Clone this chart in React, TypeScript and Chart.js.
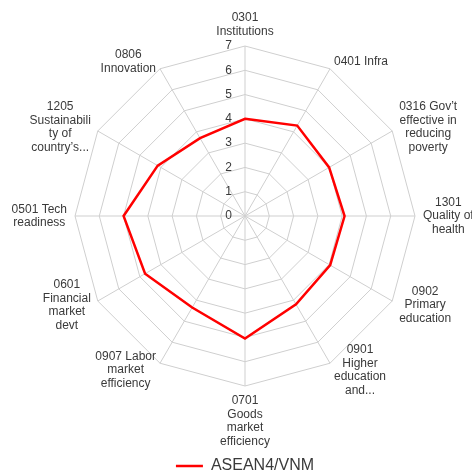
import React, { useEffect, useRef } from "react";
import { Chart, registerables } from "chart.js";

Chart.register(...registerables);

const CATEGORIES: string[][] = [
  ["0301", "Institutions"],
  ["0401 Infra"],
  ["0316 Gov’t", "effective in", "reducing", "poverty"],
  ["1301", "Quality of", "health"],
  ["0902", "Primary", "education"],
  ["0901", "Higher", "education", "and..."],
  ["0701", "Goods", "market", "efficiency"],
  ["0907 Labor", "market", "efficiency"],
  ["0601", "Financial", "market", "devt"],
  ["0501 Tech", "readiness"],
  ["1205", "Sustainabili", "ty of", "country’s..."],
  ["0806", "Innovation"],
];

const SERIES_NAME = "ASEAN4/VNM";
const SERIES_VALUES: number[] = [4.0, 4.3, 4.0, 4.1, 4.05, 4.2, 5.05, 4.35, 4.75, 5.0, 4.15, 3.7];

const TICK_VALUES: number[] = [0, 1, 2, 3, 4, 5, 6, 7];
const SCALE_MIN = 0;
const SCALE_MAX = 7;

const TEXT_COLOR = "#3a3a3a";
const GRID_COLOR = "#cfcfcf";
const LINE_COLOR = "#ff0000";
const FONT = '12px "Liberation Sans", Arial, sans-serif';
const LINE_H = 13.5;
const LABEL_GAP = 8;

const textPlugin = {
  id: "radarText",
  afterDraw(chart: any) {
    const scale = chart.scales.r;
    const ctx = chart.ctx as CanvasRenderingContext2D;
    ctx.save();
    ctx.fillStyle = TEXT_COLOR;
    ctx.font = FONT;
    ctx.textAlign = "right";
    ctx.textBaseline = "middle";
    TICK_VALUES.forEach((v) => {
      const d = scale.getDistanceFromCenterForValue(v);
      ctx.fillText(String(v), scale.xCenter - 13, scale.yCenter - d);
    });
    ctx.textAlign = "center";
    CATEGORIES.forEach((lines, i) => {
      const p = scale.getPointPosition(i, scale.drawingArea + LABEL_GAP);
      const angle = scale.getIndexAngle(i);
      const s = Math.sin(angle);
      const c = Math.cos(angle);
      const boxW = Math.max(...lines.map((l) => ctx.measureText(l).width));
      const boxH = lines.length * LINE_H;
      let cx = p.x;
      if (s > 0.01) cx = p.x + boxW / 2;
      else if (s < -0.01) cx = p.x - boxW / 2;
      let top = p.y - boxH / 2;
      if (c > 0.99) top = p.y - boxH;
      else if (c < -0.99) top = p.y;
      lines.forEach((l, k) => ctx.fillText(l, cx, top + LINE_H * (k + 0.5)));
    });
    ctx.restore();
  },
};

export default function App() {
  const ref = useRef<HTMLCanvasElement | null>(null);
  useEffect(() => {
    if (!ref.current) return;
    Chart.defaults.font.family = '"Liberation Sans", Arial, sans-serif';
    const chart = new Chart(ref.current, {
      type: "radar",
      data: {
        labels: CATEGORIES,
        datasets: [
          {
            label: SERIES_NAME,
            data: SERIES_VALUES,
            borderColor: LINE_COLOR,
            backgroundColor: "rgba(0,0,0,0)",
            borderWidth: 2.5,
            pointRadius: 0,
            pointHoverRadius: 0,
            fill: false,
          },
        ],
      },
      options: {
        responsive: false,
        animation: false,
        devicePixelRatio: 1,
        layout: { padding: { left: 75, right: 57, top: 4, bottom: 0 } },
        plugins: {
          tooltip: { enabled: false },
          legend: {
            position: "bottom",
            labels: {
              usePointStyle: true,
              pointStyle: "line",
              pointStyleWidth: 27,
              color: TEXT_COLOR,
              font: { size: 16 },
              padding: 10,
            },
          },
        },
        scales: {
          r: {
            min: SCALE_MIN,
            max: SCALE_MAX,
            ticks: { stepSize: 1, display: false },
            grid: { color: GRID_COLOR, lineWidth: 1 },
            angleLines: { color: GRID_COLOR, lineWidth: 1 },
            pointLabels: { display: false },
          },
        },
      },
      plugins: [textPlugin],
    } as any);
    return () => chart.destroy();
  }, []);
  return (
    <div style={{ position: "fixed", left: 0, top: -20, width: 472, height: 504, background: "#fff" }}>
      <canvas ref={ref} width={472} height={504} style={{ width: 472, height: 504, display: "block" }} />
    </div>
  );
}
